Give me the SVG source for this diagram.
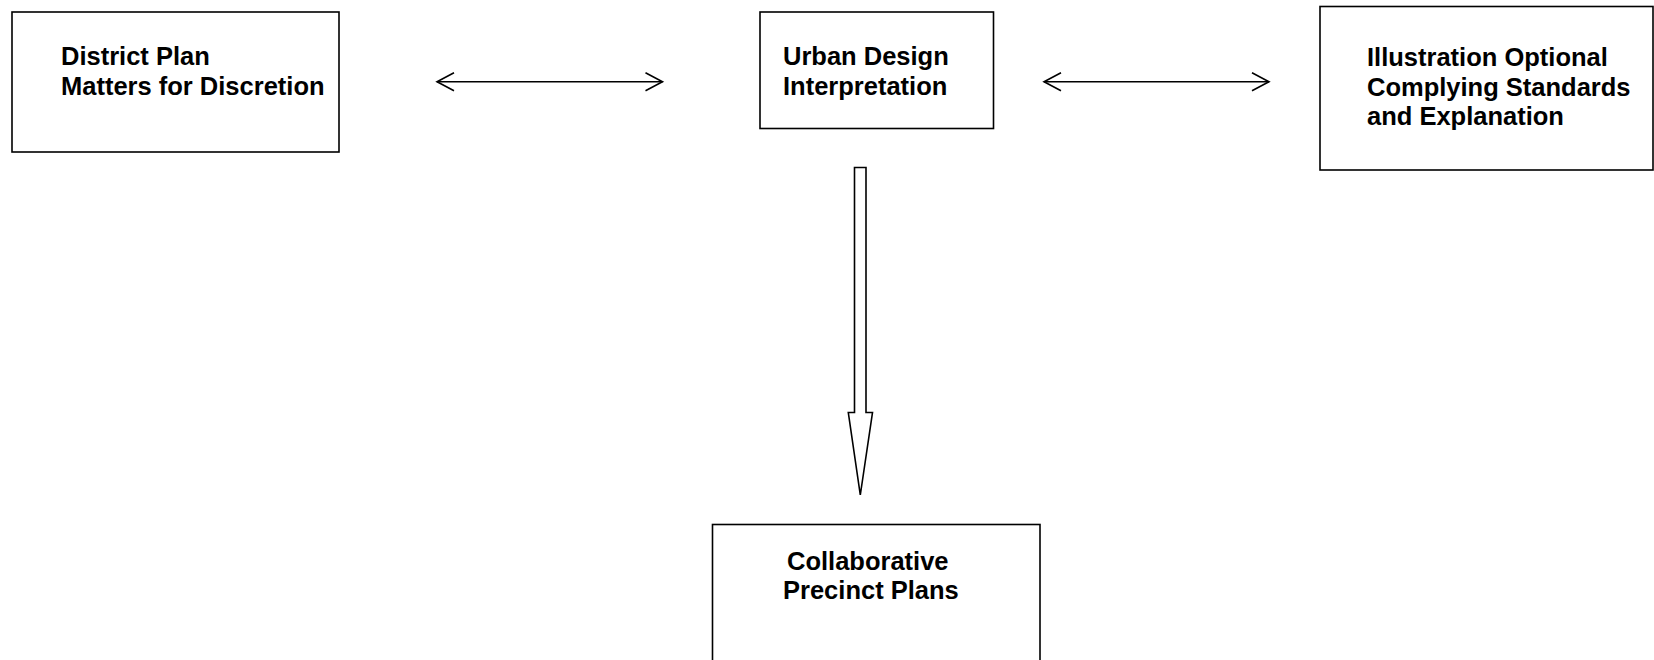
<svg xmlns="http://www.w3.org/2000/svg" width="1654" height="660" viewBox="0 0 1654 660">
<defs>
<style>
.box{fill:#fff;stroke:#000;stroke-width:1.6}
.lbl{font-family:"Liberation Sans",Arial,sans-serif;font-weight:bold;font-size:25.5px;fill:#000}
.con{fill:none;stroke:#000;stroke-width:1.5}
</style>
<marker id="open" viewBox="0 0 20 20" refX="18" refY="10" markerWidth="20" markerHeight="20" markerUnits="userSpaceOnUse" orient="auto-start-reverse">
<path d="M1,1 L18,10 L1,19" fill="none" stroke="#000" stroke-width="1.6"/>
</marker>
</defs>
<rect width="1654" height="660" fill="#fff"/>
<g id="n1">
<rect class="box" x="12" y="12" width="327" height="140"/>
<text class="lbl" x="61" y="65">District Plan</text>
<text class="lbl" x="61" y="94.5">Matters for Discretion</text>
</g>
<g id="n2">
<rect class="box" x="760" y="12" width="233.5" height="116.5"/>
<text class="lbl" x="783" y="65">Urban Design</text>
<text class="lbl" x="783" y="94.5">Interpretation</text>
</g>
<g id="n3">
<rect class="box" x="1320" y="6.5" width="333" height="163.5"/>
<text class="lbl" x="1367" y="66">Illustration Optional</text>
<text class="lbl" x="1367" y="95.5">Complying Standards</text>
<text class="lbl" x="1367" y="125">and Explanation</text>
</g>
<g id="n4">
<rect class="box" x="712.5" y="524.5" width="327.5" height="150"/>
<text class="lbl" x="787" y="569.5">Collaborative</text>
<text class="lbl" x="783" y="599">Precinct Plans</text>
</g>
<g id="connectors">
<line class="con" x1="437" y1="81.7" x2="662.5" y2="81.7" marker-start="url(#open)" marker-end="url(#open)"/>
<line class="con" x1="1044" y1="81.7" x2="1269" y2="81.7" marker-start="url(#open)" marker-end="url(#open)"/>
<path d="M854.5,167.5 H866 V412.5 H872.5 L860.3,495 L848.3,412.5 H854.5 Z" fill="#fff" stroke="#000" stroke-width="1.6" stroke-linejoin="miter"/>
</g>
</svg>
